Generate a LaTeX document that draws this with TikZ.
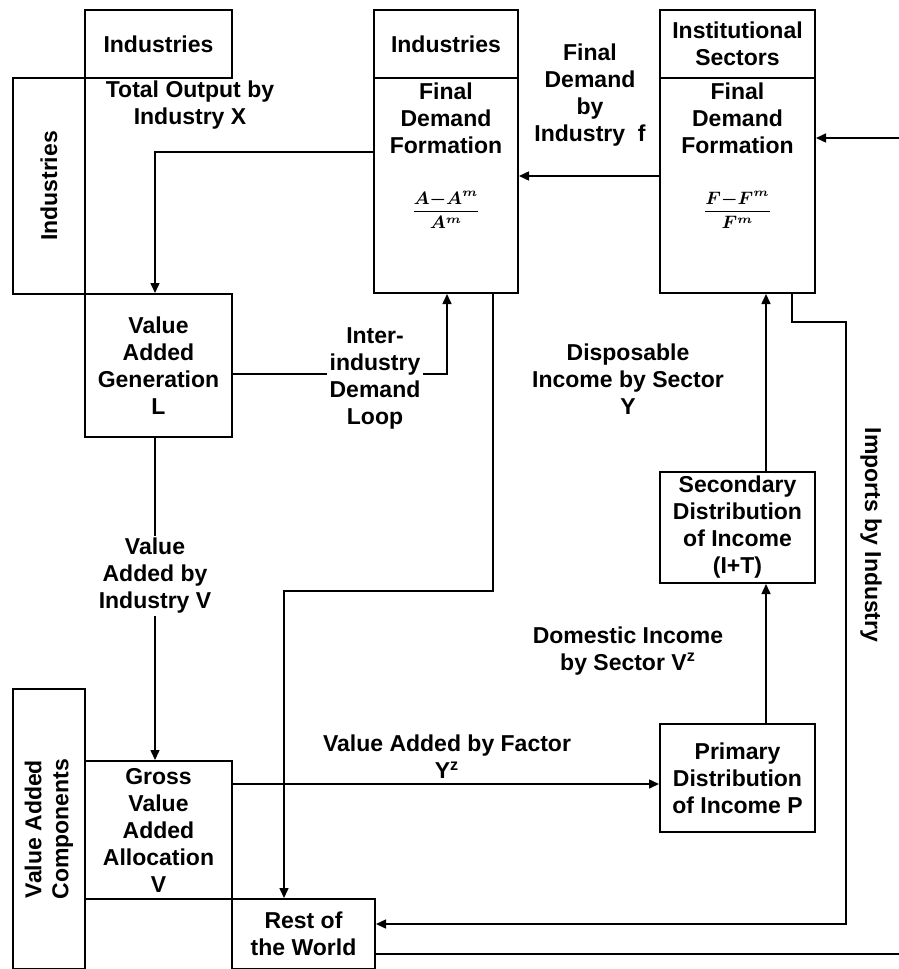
\documentclass[tikz,border=0pt]{standalone}
\usepackage{amsmath}
\usepackage{fontspec}
\setmainfont{Liberation Sans}
\usetikzlibrary{arrows.meta,positioning}

\begin{document}
\begin{tikzpicture}[x=0.5pt, y=-0.5pt,
    font=\fontsize{11.5}{13.5}\selectfont\bfseries,
    block/.style={rectangle, draw, line width=1pt, inner sep=0pt, align=center, anchor=north west},
    tag/.style={align=center, inner sep=1pt},
    frac/.style={inner sep=0pt, font=\fontsize{9}{10}\selectfont},
    line/.style={draw, line width=0.75pt, -{Triangle[length=5pt, width=4.5pt]}},
    wire/.style={draw, line width=0.75pt}]

    \useasboundingbox (0,0) rectangle (899,969);
    \coordinate (inR) at (899,138);
    \coordinate (outR) at (899,954);

    \node [block, minimum width=73.5pt, minimum height=34pt] (indTop) at (84,9) {Industries};
    \node [block, minimum width=36pt, minimum height=108pt] (indLeft) at (12,77) {};
    \node [tag, rotate=90] (indLeftTxt) at (indLeft) {Industries};
    \node [block, minimum width=73.5pt, minimum height=71.5pt] (vag) at (84,293) {Value\\Added\\Generation\\L};

    \node [block, minimum width=72pt, minimum height=34pt] (indMid) at (373,9) {Industries};
    \node [block, minimum width=72pt, minimum height=107.5pt] (fdfInd) at (373,77) {};
    \node [tag, below=1.5pt of fdfInd.north] (fdfIndTxt) {Final\\Demand\\Formation};
    \node [frac] (fdfIndFrac) at (fdfInd.north |- 0,210) {$\boldsymbol{\dfrac{A{-}A^{m}}{A^{m}}}$};

    \node [block, minimum width=77.5pt, minimum height=34pt] (instTop) at (659,9) {Institutional\\Sectors};
    \node [block, minimum width=77.5pt, minimum height=107.5pt] (fdfInst) at (659,77) {};
    \node [tag, below=1.5pt of fdfInst.north] (fdfInstTxt) {Final\\Demand\\Formation};
    \node [frac] (fdfInstFrac) at (fdfInst.north |- 0,210) {$\boldsymbol{\dfrac{F{-}F^{m}}{F^{m}}}$};

    \node [block, minimum width=77.5pt, minimum height=55.5pt] (secDist) at (659,471) {Secondary\\Distribution\\of Income\\(I+T)};
    \node [block, minimum width=77.5pt, minimum height=54pt] (primDist) at (659,723) {Primary\\Distribution\\of Income P};

    \node [block, minimum width=36pt, minimum height=140pt] (vaComp) at (12,688) {};
    \node [tag, rotate=90] (vaCompTxt) at (vaComp) {Value Added\\Components};
    \node [block, minimum width=73.5pt, minimum height=69pt] (gva) at (84,760) {Gross\\Value\\Added\\Allocation\\V};
    \node [block, minimum width=71.5pt, minimum height=35pt] (row) at (231,898) {Rest of\\the World};

    \node [tag] (totOut) at (190,105) {Total Output by\\Industry X};
    \node [tag] (fdInd) at (590,95) {Final\\Demand\\by\\Industry\ \ f};
    \node [tag] (loop) at (375,378) {Inter-\\industry\\Demand\\Loop};
    \node [tag] (dispInc) at (628,379) {Disposable\\Income by Sector\\Y};
    \node [tag] (vaInd) at (155,576) {Value\\Added by\\Industry V};
    \node [tag] (domInc) at (628,651) {Domestic Income\\by Sector V\textsuperscript{z}};
    \node [tag] (vaFac) at (447,757) {Value Added by Factor\\Y\textsuperscript{z}};
    \node [tag, rotate=-90] (imports) at (871,535) {Imports by Industry};

    \path [line] (fdfInd.west |- 0,152) -| (vag.north -| 155,0);
    \path [line] (fdfInst.west |- 0,176) -- (fdfInd.east |- 0,176);
    \path [line] (inR) -- (fdfInst.east |- inR);
    \path [wire] (vag.east |- 0,374) -- (loop.west |- 0,374);
    \path [line] (loop.east |- 0,374) -| (fdfInd.south -| 447,0);
    \path [line] (fdfInd.south -| 493,0) |- (284,591) -- (row.north -| 284,0);

    \path [wire] (vag.south -| vaInd) -- (vaInd);
    \path [line] (vaInd) -- (gva.north -| vaInd);
    \path [line] (gva.east |- 0,784) -- (primDist.west |- 0,784);
    \path [line] (primDist.north -| 766,0) -- (secDist.south -| 766,0);
    \path [line] (secDist.north -| 766,0) -- (fdfInst.south -| 766,0);

    \path [line] (fdfInst.south -| 792,0) |- (846,322) |- (row.east |- 0,924);
    \path [wire] (row.east |- 0,954) -- (outR);
\end{tikzpicture}
\end{document}
